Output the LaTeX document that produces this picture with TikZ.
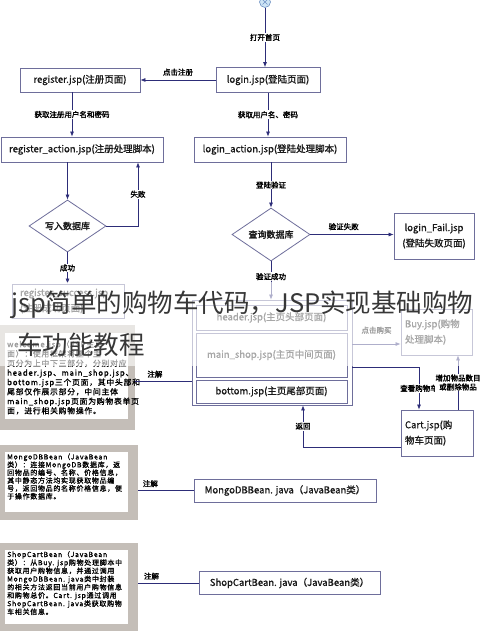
\documentclass[tikz,border=0pt]{standalone}
\usepackage{fontspec}
\setmainfont{Noto Sans CJK SC}
\newfontfamily\mdcjk{Noto Sans CJK SC}[FakeBold=1]
\newfontfamily\bfcjk{Noto Sans CJK SC}[FakeBold=2]
\newfontfamily\notecjk{Noto Sans CJK SC}[FakeBold=1,LetterSpace=10]
\usetikzlibrary{shapes.geometric,arrows.meta,calc}
\definecolor{linec}{RGB}{45,45,120}
\definecolor{boxc}{RGB}{110,110,155}
\definecolor{txtc}{RGB}{25,25,25}
\definecolor{notec}{RGB}{196,190,184}
\definecolor{startf}{RGB}{205,228,245}
\definecolor{startb}{RGB}{110,145,195}
\definecolor{wmc}{RGB}{55,55,55}
\begin{document}
\begin{tikzpicture}[x=1pt,y=-1pt,
  box/.style={draw=boxc, line width=0.8pt, fill=white, inner sep=0pt, align=center, text=txtc, font=\mdcjk\fontsize{9.5}{15.5}\selectfont},
  dia/.style={diamond, draw=boxc, line width=0.8pt, fill=white, inner sep=0pt, aspect=1.5, text=txtc, font=\bfcjk\fontsize{9}{11}\selectfont},
  lbl/.style={font=\bfcjk\fontsize{7.5}{9}\selectfont, inner sep=1pt, text=black},
  arr/.style={draw=linec, line width=0.7pt, -{Latex[length=5pt,width=4pt]}},
  ln/.style={draw=linec, line width=0.7pt},
  notebg/.style={fill=notec, inner sep=0pt},
  notetxt/.style={inner sep=0pt, align=left, anchor=west, text=black},
  wm/.style={font=\fontsize{25.5}{30}\selectfont, text=wmc, inner sep=0pt}
]
\useasboundingbox (0,0) rectangle (490,631);
\fill[white] (0,0) rectangle (490,631);

% start
\node[circle, draw=startb, fill=startf, minimum size=11pt, inner sep=0pt, line width=0.6pt] (start) at (265,2) {};
\draw[startb, line width=0.6pt] ($(start)+(-2.5,-2.5)$) -- ($(start)+(2.5,2.5)$) ($(start)+(-2.5,2.5)$) -- ($(start)+(2.5,-2.5)$);

% main boxes
\node[box, minimum width=104, minimum height=25] (login) at (268,80) {login.jsp(登陆页面)};
\node[box, minimum width=120, minimum height=24] (register) at (80,80) {register.jsp(注册页面)};
\node[box, minimum width=162, minimum height=25] (regaction) at (82,149.5) {register\_action.jsp(注册处理脚本)};
\node[box, minimum width=152, minimum height=25] (loginaction) at (270,149.5) {login\_action.jsp(登陆处理脚本)};
\node[dia, minimum width=77, minimum height=52] (d1) at (67.5,226) {写入数据库};
\node[dia, minimum width=78, minimum height=53] (d2) at (271,234.5) {查询数据库};
\node[box, minimum width=80, minimum height=46] (loginfail) at (434,236) {login\_Fail.jsp\\(登陆失败页面)};
\node[box, minimum width=112, minimum height=34, text width=96, inner xsep=8pt, align=left] (regsuccess) at (68,301) {register\_success.jsp\\(注册成功页面)};

% container
\node[draw=boxc, line width=0.8pt, fill=white, minimum width=160, minimum height=105, inner sep=0pt] (container) at (272,352.5) {};
\node[box, minimum width=151, minimum height=25] (header) at (271.5,317.5) {header.jsp(主页头部页面)};
\node[box, minimum width=151, minimum height=44] (mainshop) at (271.5,355) {main\_shop.jsp(主页中间页面)};
\node[box, minimum width=151, minimum height=23] (bottom) at (271.5,391.5) {bottom.jsp(主页尾部页面)};

\node[box, minimum width=71, minimum height=46, text width=63, inner xsep=4pt, align=left] (buy) at (436.5,332) {Buy.jsp(购物\\处理脚本)};
\node[box, minimum width=72, minimum height=46, text width=64, inner xsep=4pt, align=left] (cart) at (437,433) {Cart.jsp(购\\物车页面)};

\node[box, minimum width=182, minimum height=23] (mongo) at (285,490.5) {MongoDBBean. java（JavaBean类）};
\node[box, minimum width=181, minimum height=23] (shop) at (289.5,583) {ShopCartBean. java（JavaBean类）};

% notes
\node[notebg, minimum width=135, minimum height=105] (note1) at (67.5,377.5) {};
\fill[white] (5,333) rectangle (128,419);
\node[notetxt, font=\notecjk\fontsize{7.8}{9.5}\selectfont] (note1t) at (7,377.5) {welcome.jsp（JSP主页\\面）：使用框架将整个主\\页分为上中下三部分，分别对应\\header.jsp、main\_shop.jsp、\\bottom.jsp三个页面，其中头部和\\尾部仅作展示部分，中间主体\\main\_shop.jsp页面为购物表单页\\面，进行相关购物操作。};

\node[notebg, minimum width=138, minimum height=75] (note2) at (69,482.5) {};
\fill[white] (5,452) rectangle (128,512);
\node[notetxt, font=\notecjk\fontsize{7}{7.9}\selectfont] (note2t) at (7,476.5) {MongoDBBean（JavaBean\\类）：连接MongoDB数据库，返\\回物品的编号、名称、价格信息，\\其中静态方法均实现获取物品编\\号，返回物品的名称价格信息，便\\于操作数据库。};

\node[notebg, minimum width=138, minimum height=97] (note3) at (69,591.5) {};
\fill[white] (5,550) rectangle (128,624);
\node[notetxt, font=\notecjk\fontsize{7}{8.2}\selectfont] (note3t) at (7,583) {ShopCartBean（JavaBean\\类）：从Buy. jsp购物处理脚本中\\获取用户购物信息，并通过调用\\MongoDBBean. java类中封装\\的相关方法返回当前用户购物信息\\和购物总价。Cart. jsp通过调用\\ShopCartBean. java类获取购物\\车相关信息。};

% connectors
\draw[arr] (start) -- (start |- login.north) node[lbl, midway, fill=white] {打开首页};
\draw[arr] (login.west) -- (register.east) node[lbl, midway, above=3pt] {点击注册};
\coordinate (r1) at ($(register.south)+(-8,0)$);
\draw[arr] (r1) -- (r1 |- regaction.north) node[lbl, midway, fill=white] {获取注册用户名和密码};
\draw[arr] (login.south) -- (login.south |- loginaction.north) node[lbl, midway, fill=white] {获取用户名、密码};
\draw[arr] (d1.north |- regaction.south) -- (d1.north);
\draw[arr] (d1.east) -| ($(regaction.south)+(56,0)$) node[lbl, pos=0.75, fill=white] {失败};
\draw[arr] (d1.south) -- (d1.south |- regsuccess.north) node[lbl, midway, fill=white] {成功};
\draw[arr] (d2.north |- loginaction.south) -- (d2.north) node[lbl, midway, fill=white] {登陆验证};
\draw[arr] (d2.east) -- (d2.east -| loginfail.west) node[lbl, pos=0.4, above=3pt] {验证失败};
\draw[arr] (d2.south) -- (d2.south |- container.north) node[lbl, pos=0.4, fill=white] {验证成功};

\coordinate (buyin) at ($(buy.west)+(0,12)$);
\draw[arr] (buyin -| container.east) -- (buyin) node[lbl, midway, above=9pt] {点击购买};
\coordinate (cartin) at ($(cart.north)+(-18,0)$);
\draw[arr] ($(container.east)+(0,14.5)$) -| (cartin) node[lbl, pos=0.75, fill=white] {查看购物车};
\coordinate (cartout) at ($(cart.north)+(21,0)$);
\draw[arr] (cartout) -- (cartout |- buy.south) node[lbl, midway, fill=white, align=center] {增加物品数目\\或删除物品};
\coordinate (cartback) at ($(cart.west)+(0,14)$);
\draw[arr] (cartback) -| ($(container.south)+(31,0)$) node[lbl, pos=0.75, fill=white] {返回};

\coordinate (n1c) at ($(container.west)+(0,28.5)$);
\draw[ln] (n1c -| note1.east) -- (n1c) node[lbl, pos=0.35, above=2pt] {注解};
\draw[ln] (note2.east |- mongo.west) -- (mongo.west) node[lbl, pos=0.22, above=2pt] {注解};
\draw[ln] (note3.east |- shop.west) -- (shop.west) node[lbl, pos=0.22, above=2pt] {注解};

% fade band
\fill[white, opacity=0.62] (0,282) rectangle (490,366);

% watermark
\node[wm, anchor=west] (wm1) at (11,305) {jsp简单的购物车代码，JSP实现基础购物};
\node[wm, anchor=west] (wm2) at (17,345) {车功能教程};
\end{tikzpicture}
\end{document}
